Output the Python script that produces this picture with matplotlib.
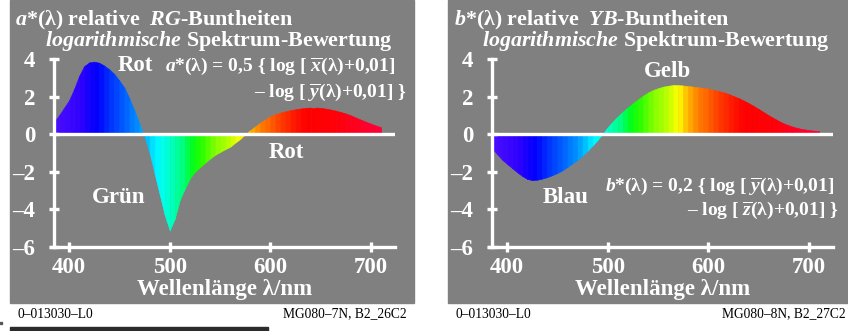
import numpy as np
import matplotlib
matplotlib.use("Agg")
from matplotlib import pyplot as plt
from matplotlib.colors import LinearSegmentedColormap, Normalize
from matplotlib.patches import Rectangle

# wavelengths (nm) and values
wl = [385, 390, 395, 400, 405, 410, 415, 420, 425, 430, 435, 440, 445, 450, 455,
      460, 465, 470, 475, 480, 485, 490, 495, 500, 505, 510, 515, 520, 525, 530,
      535, 540, 545, 550, 555, 560, 565, 570, 575, 580, 585, 590, 595, 600, 605,
      610, 615, 620, 625, 630, 635, 640, 645, 650, 655, 660, 665, 670, 675, 680,
      685, 690, 695, 700, 705, 710]

a_star = [0.66, 1.0, 1.4, 1.8, 2.4, 3.1, 3.62, 3.82, 3.86, 3.80, 3.65, 3.45, 3.20, 2.85, 2.47,
          1.90, 1.25, 0.55, -0.15, -1.0, -2.1, -3.2, -4.3, -5.12, -4.5, -3.5, -2.9, -2.35, -2.0, -1.75,
          -1.52, -1.3, -1.1, -0.95, -0.8, -0.67, -0.45, -0.25, 0.0, 0.22, 0.42, 0.62, 0.80, 0.95, 1.07,
          1.15, 1.22, 1.28, 1.33, 1.37, 1.40, 1.42, 1.42, 1.40, 1.36, 1.31, 1.25, 1.18, 1.10, 1.00,
          0.88, 0.77, 0.66, 0.56, 0.46, 0.37]

b_star = [-0.76, -1.05, -1.35, -1.58, -1.80, -2.02, -2.22, -2.38, -2.44, -2.42, -2.36, -2.28, -2.18, -2.06, -1.92,
          -1.74, -1.55, -1.36, -1.14, -0.88, -0.60, -0.30, 0.02, 0.38, 0.68, 0.95, 1.20, 1.44, 1.65, 1.85,
          2.05, 2.22, 2.35, 2.45, 2.53, 2.58, 2.61, 2.61, 2.59, 2.56, 2.53, 2.50, 2.46, 2.42, 2.36,
          2.30, 2.23, 2.14, 2.03, 1.92, 1.79, 1.65, 1.50, 1.34, 1.17, 1.00, 0.85, 0.70, 0.57, 0.47,
          0.38, 0.31, 0.26, 0.22, 0.19, 0.17]

# spectral colour stops
spec_nm = [380, 410, 428, 445, 460, 470, 480, 488, 500, 512, 522, 530, 545, 560, 570,
           578, 590, 605, 620, 635, 665, 700, 720]
spec_col = ["#5010ff", "#3000ff", "#0000ff", "#0040ff", "#0070ff", "#0098ff", "#00d0ff",
            "#00ffff", "#00ffc8", "#00ff80", "#00ff20", "#20ff00", "#80ff00", "#c0ff00",
            "#ffff00", "#ffc000", "#ff8000", "#ff5000", "#ff2000", "#ff0000", "#ff0008",
            "#ff0030", "#ff0040"]

x_ticks = [400, 500, 600, 700]
y_ticks = [-6, -4, -2, 0, 2, 4]
y_ticklabels = ["–6", "–4", "–2", "0", "2", "4"]

W, H = 848, 331
GRAY = "#808080"
FG = "white"

plt.rcParams["font.family"] = ["Liberation Serif", "DejaVu Serif"]
plt.rcParams["font.weight"] = "bold"
plt.rcParams["mathtext.fontset"] = "custom"
plt.rcParams["mathtext.rm"] = "Liberation Serif:bold"
plt.rcParams["mathtext.it"] = "Liberation Serif:italic:bold"
plt.rcParams["mathtext.bf"] = "Liberation Serif:bold"

norm = Normalize(spec_nm[0], spec_nm[-1])
cmap = LinearSegmentedColormap.from_list(
    "spec", [(norm(n), c) for n, c in zip(spec_nm, spec_col)])

fig = plt.figure(figsize=(W / 100, H / 100), dpi=100)
fig.patch.set_facecolor("white")


def px(x, y):
    return x / W, 1 - y / H


def rect(x0, y0, x1, y1, color):
    fig.patches.append(Rectangle(px(x0, y1), (x1 - x0) / W, (y1 - y0) / H,
                                 transform=fig.transFigure, color=color, zorder=-5))


def ftext(x, y, s, **kw):
    fig.text(*px(x, y), s, **kw)


rect(10, 0, 414, 303, GRAY)
rect(448, 0, 848, 303, GRAY)
rect(10, 327, 268, 331, "#2b2b2b")
rect(0, 322, 2, 324, "#555555")


def panel(x0, vals):
    ax = fig.add_axes([x0 / W, 1 - 247 / H, 341 / W, 188 / H])
    ax.set_zorder(2)
    ax.set_xlim(385.1, 723.7)
    ax.set_ylim(-6, 4)
    ax.patch.set_visible(False)
    for i in range(len(wl) - 1):
        c = cmap(norm((wl[i] + wl[i + 1]) / 2))
        ax.fill_between(wl[i:i + 2], 0, vals[i:i + 2], facecolor=c,
                        edgecolor=c, linewidth=0.4)
    ax.axhline(0, color=FG, lw=2.4, zorder=5)
    for s in ["top", "right"]:
        ax.spines[s].set_visible(False)
    for s in ["left", "bottom"]:
        ax.spines[s].set_color(FG)
        ax.spines[s].set_linewidth(2.4)
        ax.spines[s].set_zorder(6)
    ax.spines["bottom"].set_bounds(382, 723.7)
    ax.set_xticks(x_ticks)
    ax.set_yticks(y_ticks)
    ax.set_yticklabels(y_ticklabels)
    ax.tick_params(direction="inout", length=7, width=2.4, color=FG,
                   labelcolor=FG, labelsize=16.5)
    ax.tick_params(axis="y", pad=10)
    ax.tick_params(axis="x", pad=4)
    for lab in ax.get_xticklabels() + ax.get_yticklabels():
        lab.set_fontweight("bold")
    return ax


panel(54, a_star)
panel(492, b_star)

# left panel texts
ftext(15, 25.5, r"$a$*(λ) relative  $RG$-Buntheiten", color=FG, fontsize=15.8,
      va="baseline")
ftext(45, 46, r"$logarithmische$ Spektrum-Bewertung", color=FG, fontsize=15.8,
      va="baseline")
ftext(118, 71, "Rot", color=FG, fontsize=16.5, va="baseline")
ftext(395, 71, r"$a$*(λ) = 0,5 { log [ $\overline{x}$(λ)+0,01]", color=FG,
      fontsize=14, va="baseline", ha="right")
ftext(407, 97, r"– log [ $\overline{y}$(λ)+0,01] }", color=FG,
      fontsize=14, va="baseline", ha="right")
ftext(269, 158, "Rot", color=FG, fontsize=16.5, va="baseline")
ftext(92, 203, "Grün", color=FG, fontsize=16.5, va="baseline")
ftext(225, 295, "Wellenlänge λ/nm", color=FG, fontsize=16.5, va="baseline",
      ha="center")
ftext(18, 314, "0–013030–L0", color="black", fontsize=9.75, fontweight="normal",
      va="center")
ftext(407, 314, "MG080–7N, B2_26C2", color="black", fontsize=9.75,
      fontweight="normal", va="center", ha="right")

# right panel texts
ftext(454, 25.5, r"$b$*(λ) relative  $YB$-Buntheiten", color=FG, fontsize=15.8,
      va="baseline")
ftext(482, 46, r"$logarithmische$ Spektrum-Bewertung", color=FG, fontsize=15.8,
      va="baseline")
ftext(644, 77, "Gelb", color=FG, fontsize=16.5, va="baseline")
ftext(543, 203, "Blau", color=FG, fontsize=16.5, va="baseline")
ftext(834, 191, r"$b$*(λ) = 0,2 { log [ $\overline{y}$(λ)+0,01]", color=FG,
      fontsize=14, va="baseline", ha="right")
ftext(839, 215, r"– log [ $\overline{z}$(λ)+0,01] }", color=FG,
      fontsize=14, va="baseline", ha="right")
ftext(663, 295, "Wellenlänge λ/nm", color=FG, fontsize=16.5, va="baseline",
      ha="center")
ftext(456, 314, "0–013030–L0", color="black", fontsize=9.75, fontweight="normal",
      va="center")
ftext(846, 314, "MG080–8N, B2_27C2", color="black", fontsize=9.75,
      fontweight="normal", va="center", ha="right")

fig.savefig("out.png", dpi=100)
